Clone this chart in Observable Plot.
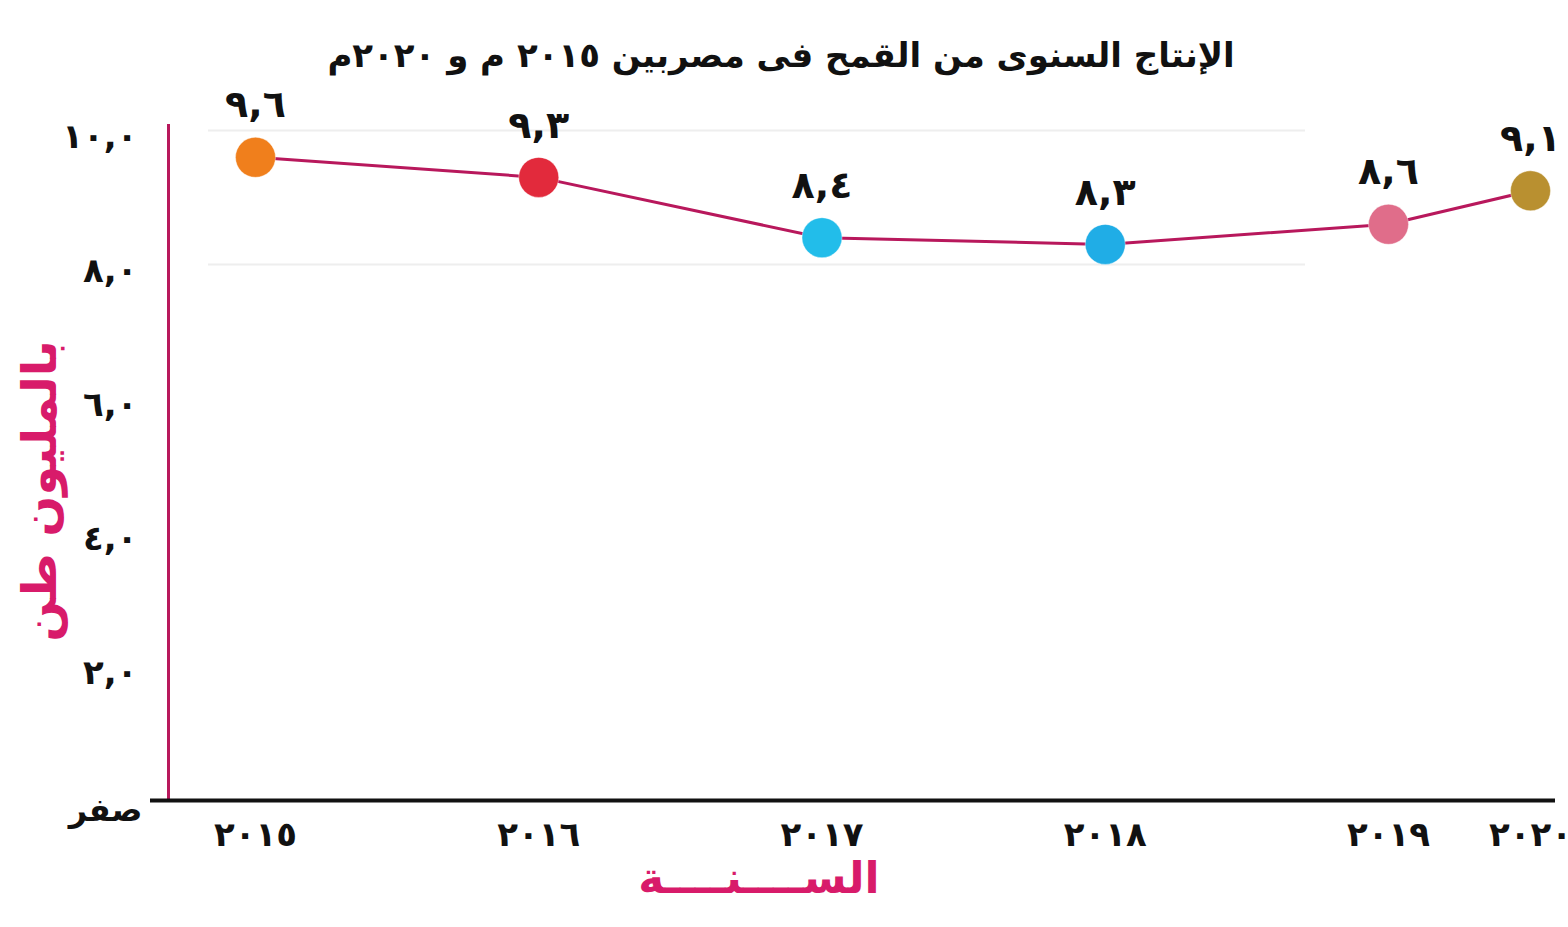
<!DOCTYPE html>
<html><head><meta charset="utf-8">
<script src="https://cdn.jsdelivr.net/npm/d3@7"></script>
<script src="https://cdn.jsdelivr.net/npm/@observablehq/plot@0.6"></script>
<style>body{margin:0;background:#fff;}svg{display:block;}</style>
</head><body>
<div id="chart"></div>
<script>
const title = "الإنتاج السنوى من القمح فى مصربين ٢٠١٥ م و ٢٠٢٠م";
const yLabel = "بالمليون طن";
const xLabel = "الســــنــــة";
const years = [2015, 2016, 2017, 2018, 2019, 2020];
const yearLabels = ["٢٠١٥", "٢٠١٦", "٢٠١٧", "٢٠١٨", "٢٠١٩", "٢٠٢٠"];
const values = [9.6, 9.3, 8.4, 8.3, 8.6, 9.1];
const valueLabels = ["٩,٦", "٩,٣", "٨,٤", "٨,٣", "٨,٦", "٩,١"];
const pointColors = ["#f07f1c", "#e22a3c", "#22bdea", "#20ade6", "#e06d8a", "#b99030"];
const yTicks = [2, 4, 6, 8, 10];
const yTickLabels = ["٢,٠", "٤,٠", "٦,٠", "٨,٠", "١٠,٠"];
const zeroLabel = "صفر";

const data = years.map((y, i) => ({year: y, value: values[i], label: valueLabels[i], color: pointColors[i], yl: yearLabels[i]}));
const font = "DejaVu Sans";
const magenta = "#b8185c";

const chart = Plot.plot({
  width: 1568, height: 927,
  marginLeft: 168, marginRight: 13, marginTop: 125, marginBottom: 127,
  style: {fontFamily: font, background: "#fff"},
  x: {type: "linear", domain: [2015, 2019, 2020], range: [255, 1388, 1530], axis: null},
  y: {type: "linear", domain: [0, 10], range: [800, 130], axis: null},
  marks: [
    Plot.ruleY([8, 10], {stroke: "#eeeeee", strokeWidth: 2, insetLeft: 40, insetRight: 250}),
    Plot.frame({anchor: "left", stroke: magenta, strokeWidth: 3}),
    Plot.ruleY([0], {stroke: "#111", strokeWidth: 4, insetLeft: -18}),
    Plot.axisY({ticks: yTicks, tickFormat: d => yTickLabels[yTicks.indexOf(d)], label: null, tickSize: 0, tickPadding: 31, fontSize: 34, fontWeight: "bold", dy: 7, fill: "#111"}),
    Plot.text([zeroLabel], {frameAnchor: "bottom-left", text: d => d, textAnchor: "end", dx: -26, dy: 20, fontSize: 32, fontWeight: "bold", fill: "#111"}),
    Plot.text(data, {x: "year", frameAnchor: "bottom", text: "yl", dy: 45, fontSize: 34, fontWeight: "bold", fill: "#111"}),
    Plot.line(data, {x: "year", y: "value", stroke: magenta, strokeWidth: 3}),
    Plot.dot(data, {x: "year", y: "value", r: 20, fill: "color", stroke: "#ffffff", strokeOpacity: 0.4, strokeWidth: 1}),
    Plot.text(data, {x: "year", y: "value", text: "label", dy: -52, fontSize: 38, fontWeight: "bold", fill: "#111"}),
    Plot.text([title], {frameAnchor: "top", text: d => d, dx: -81, dy: -83, fontSize: 34, fontWeight: "bold", fill: "#111"}),
    Plot.text([yLabel], {frameAnchor: "left", text: d => d, textAnchor: "middle", rotate: -90, dx: -128, dy: 28, fontSize: 48, fontWeight: "bold", fill: "#d81b6a"}),
    Plot.text([xLabel], {frameAnchor: "bottom", text: d => d, dx: -103, dy: 92, fontSize: 44, fontWeight: "bold", fill: "#d81b6a"})
  ]
});
document.getElementById("chart").appendChild(chart);
</script>
</body></html>
